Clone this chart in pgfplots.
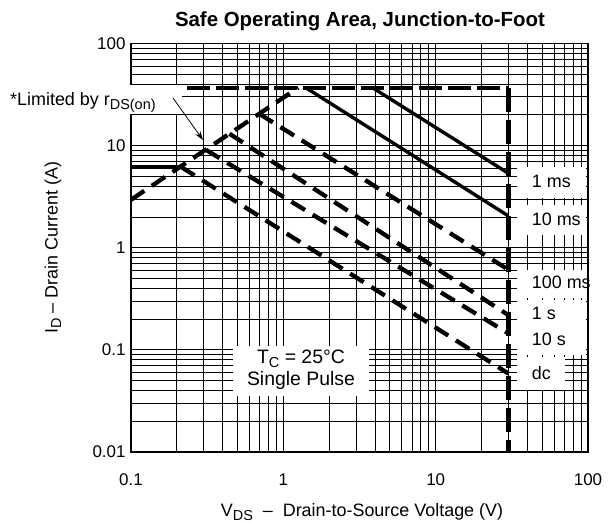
\documentclass[border=0pt]{standalone}
\usepackage{pgfplots}
\pgfplotsset{compat=1.18}
\usepackage{fontspec}
\setmainfont{Liberation Sans}
\usetikzlibrary{arrows.meta}
\newcommand{\sub}[1]{\raisebox{-3.5bp}{\fontsize{14.5}{15}\selectfont #1}}
\tikzset{
  sdash/.style={black, line width=4.3bp, dash pattern=on 16bp off 9bp},
  ssolid/.style={black, line width=3.4bp},
  lab/.style={font=\fontsize{18}{20}\selectfont, inner sep=0pt},
}
\begin{document}
\begin{tikzpicture}
\begin{axis}[
  xmode=log, ymode=log,
  scale only axis, width=457bp, height=408.5bp,
  xmin=0.1, xmax=100, ymin=0.01, ymax=100,
  clip=false,
  grid=both,
  major grid style={black, line width=0.9bp},
  minor grid style={black, line width=0.9bp},
  axis line style={black, line width=1.1bp},
  major tick length=0pt, minor tick length=0pt,
  xtick={0.1,1,10,100}, xticklabels={0.1,1,10,100},
  ytick={0.01,0.1,1,10,100}, yticklabels={0.01,0.1,1,10,100},
  minor xtick={0.2,0.3,0.4,0.5,0.6,0.7,0.8,0.9,2,3,4,5,6,7,8,9,20,30,40,50,60,70,80,90},
  minor ytick={0.02,0.03,0.04,0.05,0.06,0.07,0.08,0.09,0.2,0.3,0.4,0.5,0.6,0.7,0.8,0.9,2,3,4,5,6,7,8,9,20,30,40,50,60,70,80,90},
  ticklabel style={font=\fontsize{17}{20}\selectfont},
  xticklabel style={yshift=-18bp},
  yticklabel style={xshift=-2bp},
  xlabel={V\sub{DS}\ \ –\ \ Drain-to-Source Voltage (V)},
  ylabel={I\sub{D} – Drain Current (A)},
  every axis x label/.style={at={(rel axis cs:0.5055,-0.1469)}, anchor=center, font=\fontsize{18}{20}\selectfont},
  every axis y label/.style={at={(rel axis cs:-0.1707,0.5)}, anchor=center, rotate=90, font=\fontsize{18}{20}\selectfont},
  title={Safe Operating Area, Junction-to-Foot},
  every axis title/.style={at={(rel axis cs:0.501,1.0411)}, anchor=base, font=\bfseries\fontsize{20.5}{24}\selectfont},
]
% white label boxes over the grid
\fill[white] (rel axis cs:-0.0044,0.8274) rectangle (rel axis cs:0.1116,0.8984);
\fill[white] (rel axis cs:0.2226,0.1371) rectangle (rel axis cs:0.5214,0.2595);
\fill[white] (rel axis cs:0.8446,0.6218) rectangle (rel axis cs:0.9956,0.6977);
\fill[white] (rel axis cs:0.8446,0.5312) rectangle (rel axis cs:0.9956,0.6047);
\fill[white] (rel axis cs:0.8446,0.3770) rectangle (rel axis cs:0.9978,0.4455);
\fill[white] (rel axis cs:0.8446,0.2375) rectangle (rel axis cs:0.9956,0.3721);
\fill[white] (rel axis cs:0.8446,0.1518) rectangle (rel axis cs:0.9497,0.2326);

% limits
\addplot[black, line width=4bp] coordinates {(0.1,6.2) (0.213,6.2)};
\addplot[sdash] coordinates {(0.1,2.95) (1.254,37)};
\addplot[black, line width=4bp, dash pattern=on 23bp off 6bp] coordinates {(0.234,37) (30,37)};
\addplot[black, line width=4.7bp, dash pattern=on 24bp off 8bp] coordinates {(30,37) (30,0.01)};
% pulse lines
\addplot[ssolid] coordinates {(3.84,37) (30,5.36)};
\addplot[ssolid] coordinates {(1.4,37) (30,2.05)};
\addplot[sdash] coordinates {(0.695,20.5) (30,0.61)};
\addplot[sdash] coordinates {(0.443,13.07) (30,0.219)};
\addplot[sdash] coordinates {(0.31,9.1) (30,0.145)};
\addplot[sdash] coordinates {(0.213,6.2) (30,0.0587)};

% labels
\node[lab, anchor=west] at (rel axis cs:0.8768,0.6617) {1 ms};
\node[lab, anchor=west] at (rel axis cs:0.8768,0.5704) {10 ms};
\node[lab, anchor=west] at (rel axis cs:0.8768,0.4144) {100 ms};
\node[lab, anchor=west] at (rel axis cs:0.8768,0.3395) {1 s};
\node[lab, anchor=west] at (rel axis cs:0.8768,0.2759) {10 s};
\node[lab, anchor=west] at (rel axis cs:0.8768,0.1941) {dc};
\node[inner sep=0pt, font=\fontsize{19.5}{20}\selectfont] at (rel axis cs:0.372,0.2277) {T\sub{C} = 25°C};
\node[inner sep=0pt, font=\fontsize{19.5}{20}\selectfont] at (rel axis cs:0.372,0.1763) {Single Pulse};
\node[lab, anchor=base west] at (rel axis cs:-0.2648,0.847) {*Limited by r\sub{DS(on)}};
\draw[-{Stealth[length=9bp,width=6bp]}, line width=0.8bp] (rel axis cs:0.0919,0.8666) -- (rel axis cs:0.1575,0.7638);

\coordinate (bbA) at (rel axis cs:-0.28665,-0.17136);
\coordinate (bbB) at (rel axis cs:1.05033,1.10649);
\end{axis}
\pgfresetboundingbox
\path[use as bounding box] (bbA) rectangle (bbB);
\end{tikzpicture}
\end{document}
